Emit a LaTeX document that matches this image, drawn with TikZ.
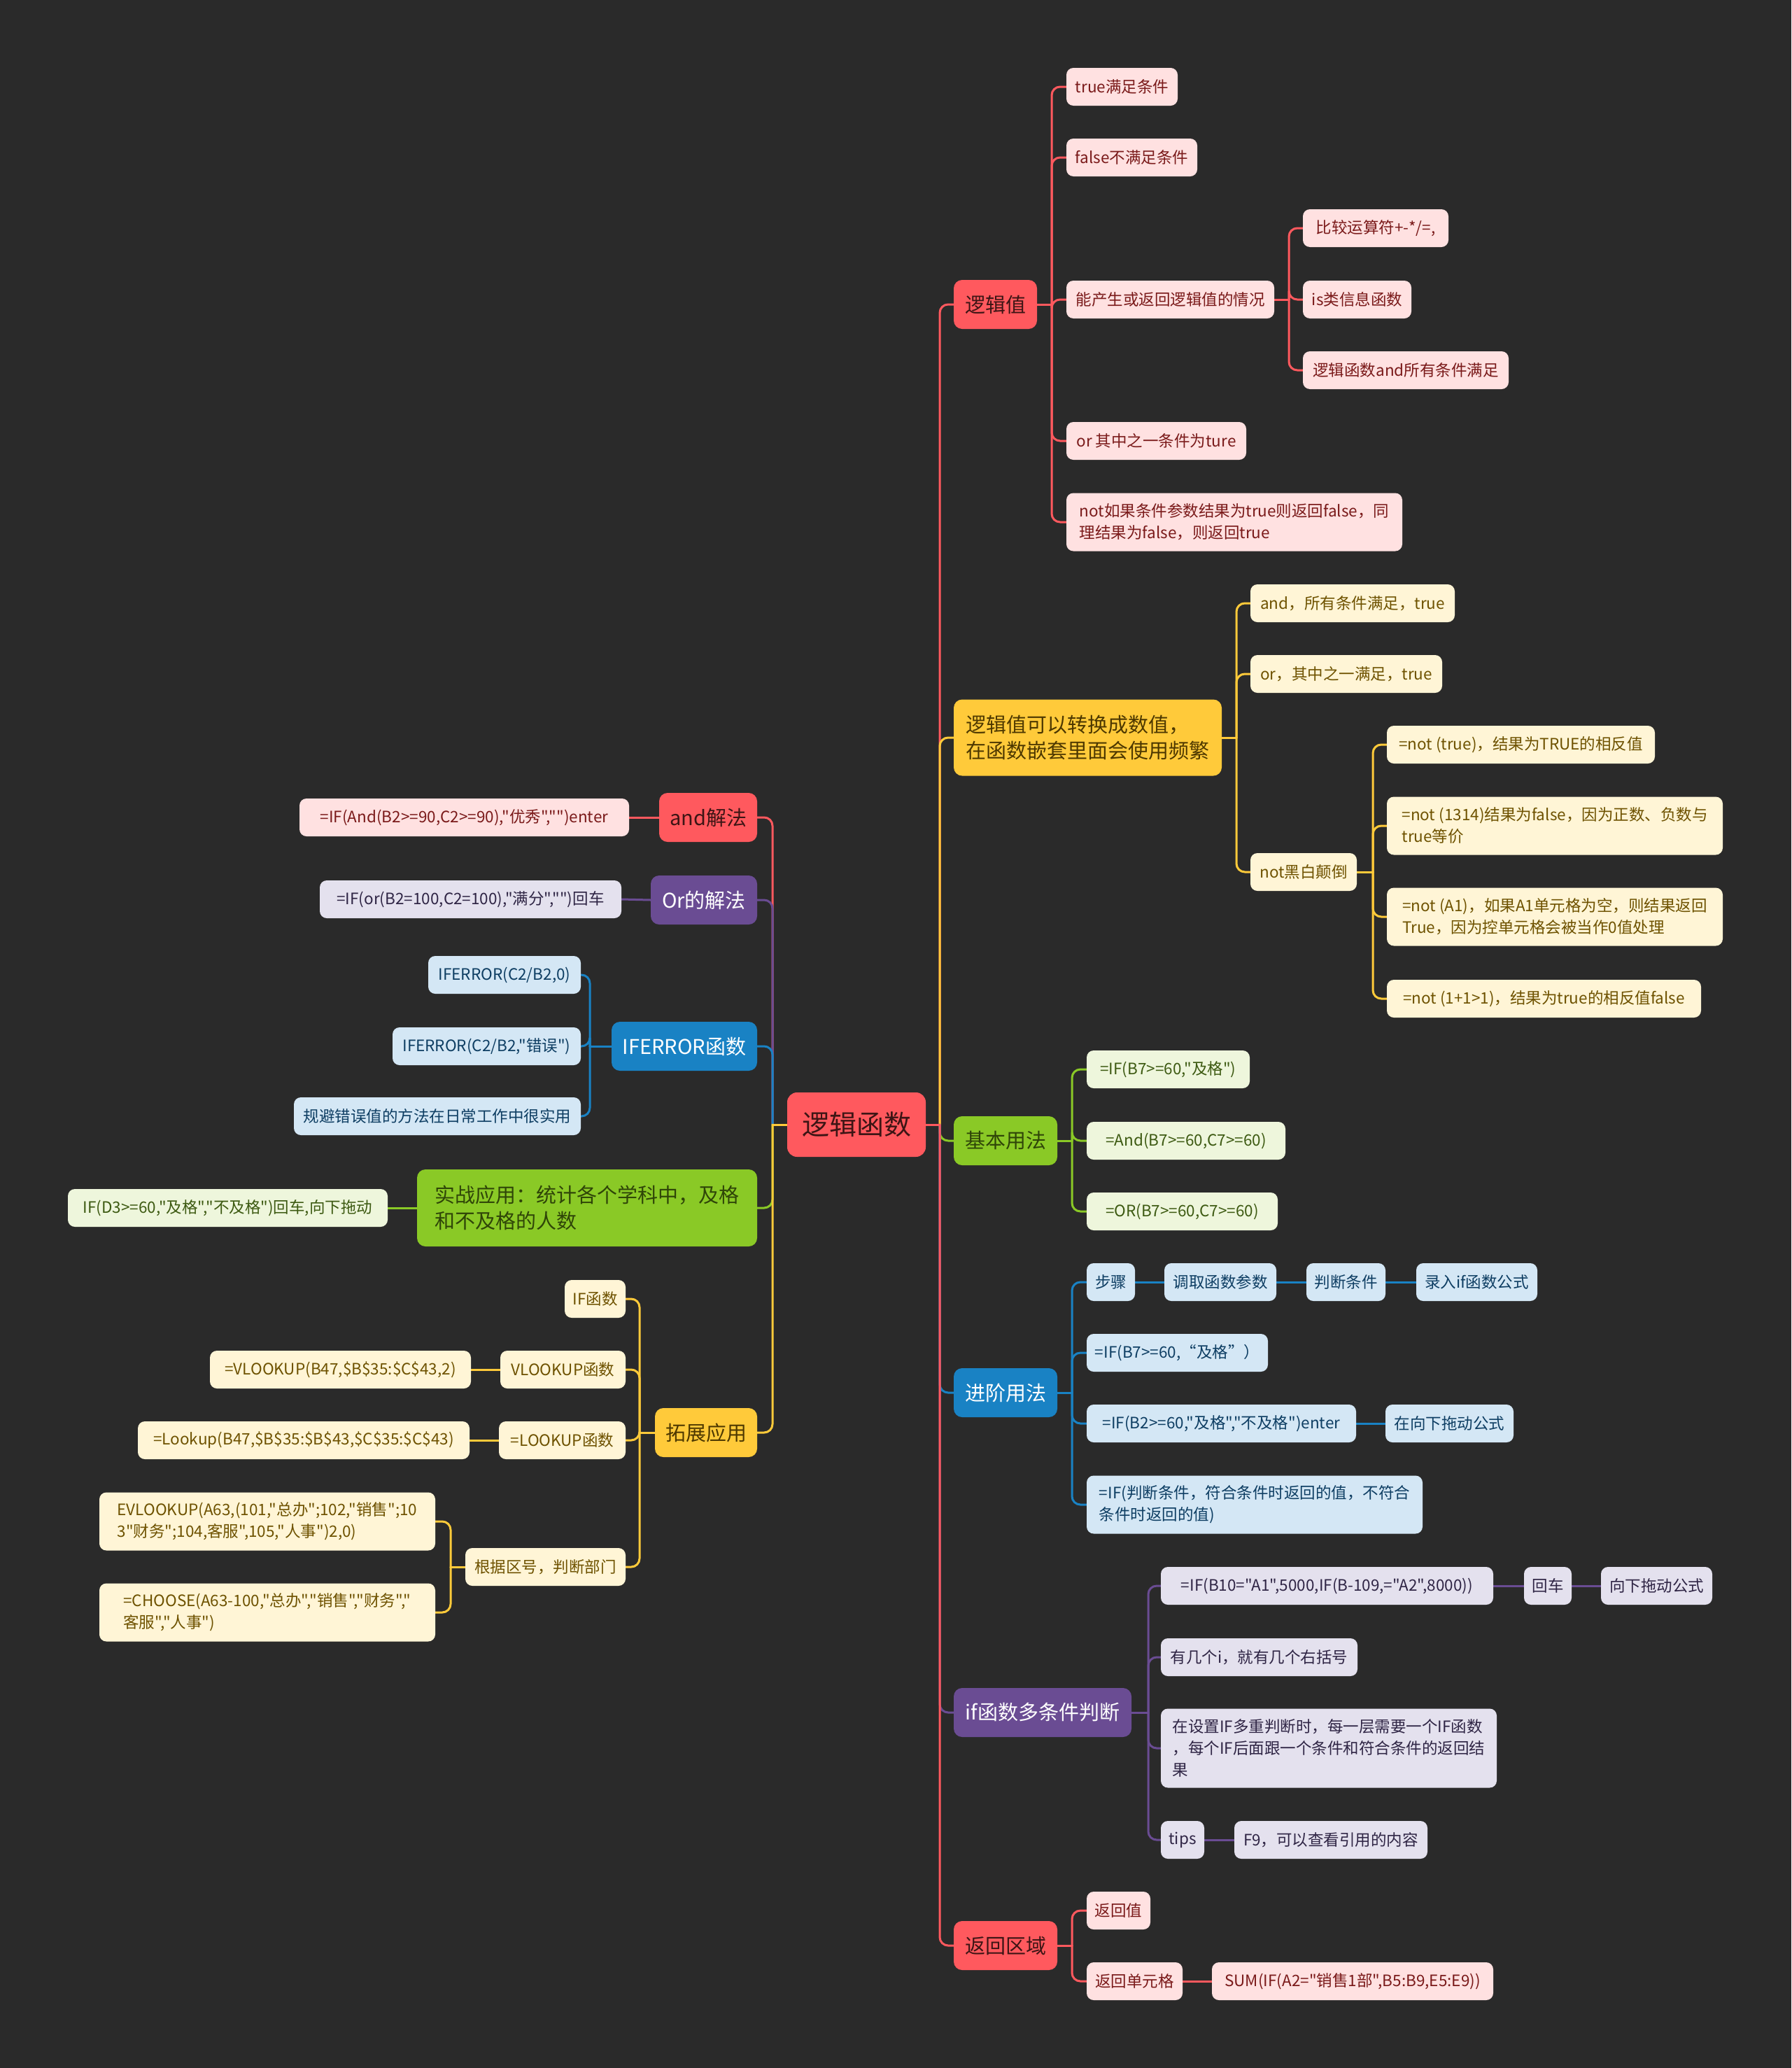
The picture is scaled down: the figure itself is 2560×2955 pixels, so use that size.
\documentclass[tikz,border=0pt]{standalone}
\usepackage{fontspec}
\setmainfont{Noto Sans CJK SC}[Ligatures=TeXOff]
\usetikzlibrary{backgrounds}
\definecolor{bg}{HTML}{2A2A2A}
\definecolor{redM}{HTML}{FF595E}
\definecolor{redT}{HTML}{3D1515}
\definecolor{pinkF}{HTML}{FFE1E1}
\definecolor{pinkT}{HTML}{7A1A1A}
\definecolor{yelM}{HTML}{FFCA3A}
\definecolor{yelT}{HTML}{4D3800}
\definecolor{creF}{HTML}{FFF5D6}
\definecolor{creT}{HTML}{6E5200}
\definecolor{grnM}{HTML}{8AC926}
\definecolor{grnT}{HTML}{2F4508}
\definecolor{lgF}{HTML}{EEF6DC}
\definecolor{lgT}{HTML}{3D5A12}
\definecolor{bluM}{HTML}{1982C4}
\definecolor{lbF}{HTML}{D4E7F5}
\definecolor{lbT}{HTML}{0E3E63}
\definecolor{purM}{HTML}{6A4C93}
\definecolor{lvF}{HTML}{E4E1EE}
\definecolor{lvT}{HTML}{2F2545}
\newcommand\fsA{\fontsize{22.5}{31}\selectfont}
\newcommand\fsB{\fontsize{29}{37}\selectfont}
\newcommand\fsC{\fontsize{39}{46}\selectfont}
\newcommand\mk[7]{\node[#1, minimum width={#4pt-#3pt}, minimum height={#6pt}] (#2) at ({(#3+#4)/2},#5) {#7};}
\newcommand\connR[4]{\draw[ln,#1] (#2.east) -- (#2.east -| #4); \draw[ln,#1,rounded corners=12pt] (#2.east -| #4) |- (#3.west);}
\newcommand\connL[4]{\draw[ln,#1] (#2.west) -- (#2.west -| #4); \draw[ln,#1,rounded corners=12pt] (#2.west -| #4) |- (#3.east);}
\tikzset{
  box/.style={rounded corners=10pt, inner sep=0pt, align=center},
  main/.style={box, rounded corners=12pt, font=\fsB},
  rt/.style={box, rounded corners=14pt, fill=redM, text=redT, font=\fsC},
  rd/.style={main, fill=redM, text=redT},
  yl/.style={main, fill=yelM, text=yelT},
  gn/.style={main, fill=grnM, text=grnT},
  bl/.style={main, fill=bluM, text=white},
  pu/.style={main, fill=purM, text=white},
  pk/.style={box, fill=pinkF, text=pinkT, font=\fsA},
  cr/.style={box, fill=creF, text=creT, font=\fsA},
  lg/.style={box, fill=lgF, text=lgT, font=\fsA},
  lb/.style={box, fill=lbF, text=lbT, font=\fsA},
  lv/.style={box, fill=lvF, text=lvT, font=\fsA},
  ln/.style={line width=3pt, line cap=round},
  cred/.style={draw=redM},
  cyel/.style={draw=yelM},
  cgrn/.style={draw=grnM},
  cblu/.style={draw=bluM},
  cpur/.style={draw=purM}
}
\begin{document}
\begin{tikzpicture}[x=1pt,y=-1pt]
\useasboundingbox (0,0) rectangle (2560,2955);
% root
\mk{rt}{root}{1125}{1323}{1607}{92}{逻辑函数}
% right level 1
\mk{rd}{L1}{1363}{1482}{435}{70}{逻辑值}
\mk{yl,align=left}{Y}{1363}{1746}{1054}{109}{逻辑值可以转换成数值，\\在函数嵌套里面会使用频繁}
\mk{gn}{G}{1363}{1511}{1630}{70}{基本用法}
\mk{bl}{B}{1363}{1511}{1990}{70}{进阶用法}
\mk{pu}{P}{1363}{1617}{2447}{70}{if函数多条件判断}
\mk{rd}{R}{1363}{1511}{2780}{70}{返回区域}
% 逻辑值
\mk{pk}{t1}{1524}{1683}{124}{54}{true满足条件}
\mk{pk}{t2}{1524}{1711}{225}{54}{false不满足条件}
\mk{pk}{t3}{1524}{1821}{428}{54}{能产生或返回逻辑值的情况}
\mk{pk}{t4}{1524}{1781}{630}{54}{or 其中之一条件为ture}
\mk{pk,align=left}{t5}{1524}{2004}{746}{83}{not如果条件参数结果为true则返回false，同\\理结果为false，则返回true}
\mk{pk}{c1}{1862}{2070}{326}{54}{比较运算符+-*/=,}
\mk{pk}{c2}{1862}{2017}{428}{54}{is类信息函数}
\mk{pk}{c3}{1862}{2156}{529}{54}{逻辑函数and所有条件满足}
% yellow
\mk{cr}{y1}{1787}{2079}{862}{54}{and，所有条件满足，true}
\mk{cr}{y2}{1787}{2061}{963}{54}{or，其中之一满足，true}
\mk{cr}{y3}{1787}{1939}{1246}{54}{not黑白颠倒}
\mk{cr}{n1}{1982}{2365}{1064}{54}{=not (true)，结果为TRUE的相反值}
\mk{cr,align=left}{n2}{1982}{2462}{1180}{83}{=not (1314)结果为false，因为正数、负数与\\true等价}
\mk{cr,align=left}{n3}{1982}{2462}{1310}{83}{=not (A1)，如果A1单元格为空，则结果返回\\True，因为控单元格会被当作0值处理}
\mk{cr}{n4}{1982}{2431}{1427}{54}{=not (1+1>1)，结果为true的相反值false}
% 基本用法
\mk{lg}{g1}{1553}{1786}{1528}{54}{=IF(B7>=60,"及格")}
\mk{lg}{g2}{1553}{1837}{1630}{54}{=And(B7>=60,C7>=60)}
\mk{lg}{g3}{1553}{1826}{1731}{54}{=OR(B7>=60,C7>=60)}
% 进阶用法
\mk{lb}{b1}{1553}{1622}{1832}{54}{步骤}
\mk{lb}{b1a}{1664}{1824}{1832}{54}{调取函数参数}
\mk{lb}{b1b}{1867}{1980}{1832}{54}{判断条件}
\mk{lb}{b1c}{2024}{2197}{1832}{54}{录入if函数公式}
\mk{lb}{b2}{1553}{1812}{1933}{54}{=IF(B7>=60,“及格”）}
\mk{lb}{b3}{1553}{1938}{2034}{54}{=IF(B2>=60,"及格","不及格")enter}
\mk{lb}{b3a}{1980}{2163}{2034}{54}{在向下拖动公式}
\mk{lb,align=left}{b4}{1553}{2033}{2150}{83}{=IF(判断条件，符合条件时返回的值，不符合\\条件时返回的值)}
% if函数多条件判断
\mk{lv}{p1}{1659}{2134}{2266}{54}{=IF(B10="A1",5000,IF(B-109,="A2",8000))}
\mk{lv}{p1a}{2178}{2246}{2266}{54}{回车}
\mk{lv}{p1b}{2288}{2447}{2266}{54}{向下拖动公式}
\mk{lv}{p2}{1659}{1940}{2368}{54}{有几个i，就有几个右括号}
\mk{lv,align=left}{p3}{1659}{2139}{2498}{113}{在设置IF多重判断时，每一层需要一个IF函数\\，每个IF后面跟一个条件和符合条件的返回结\\果}
\mk{lv}{p4}{1659}{1721}{2629}{54}{tips}
\mk{lv}{p4a}{1764}{2040}{2629}{54}{F9，可以查看引用的内容}
% 返回区域
\mk{pk}{r1}{1553}{1644}{2730}{54}{返回值}
\mk{pk}{r2}{1553}{1690}{2831}{54}{返回单元格}
\mk{pk}{r2a}{1732}{2134}{2831}{54}{SUM(IF(A2="销售1部",B5:B9,E5:E9))}
% left side
\mk{rd}{A}{942}{1082}{1168}{70}{and解法}
\mk{pk}{a1}{428}{899}{1168}{54}{=IF(And(B2>=90,C2>=90),"优秀","")enter}
\mk{pu}{O}{930}{1082}{1286}{70}{Or的解法}
\mk{lv}{o1}{457}{888}{1285}{54}{=IF(or(B2=100,C2=100),"满分","")回车}
\mk{bl}{E}{874}{1082}{1495}{70}{IFERROR函数}
\mk{lb}{e1}{612}{830}{1393}{54}{IFERROR(C2/B2,0)}
\mk{lb}{e2}{561}{830}{1495}{54}{IFERROR(C2/B2,"错误")}
\mk{lb}{e3}{420}{830}{1595}{54}{规避错误值的方法在日常工作中很实用}
\mk{gn,align=left}{S}{596}{1082}{1726}{110}{实战应用：统计各个学科中，及格\\和不及格的人数}
\mk{lg}{s1}{97}{554}{1726}{54}{IF(D3>=60,"及格","不及格")回车,向下拖动}
\mk{yl}{X}{936}{1082}{2047}{70}{拓展应用}
\mk{cr}{x1}{807}{894}{1856}{54}{IF函数}
\mk{cr}{x2}{715}{894}{1957}{54}{VLOOKUP函数}
\mk{cr}{x2a}{300}{673}{1957}{54}{=VLOOKUP(B47,\$B\$35:\$C\$43,2)}
\mk{cr}{x3}{713}{894}{2058}{54}{=LOOKUP函数}
\mk{cr}{x3a}{197}{671}{2058}{54}{=Lookup(B47,\$B\$35:\$B\$43,\$C\$35:\$C\$43)}
\mk{cr}{x4}{665}{894}{2239}{54}{根据区号，判断部门}
\mk{cr,align=left}{x4a}{142}{622}{2174}{83}{EVLOOKUP(A63,(101,"总办";102,"销售";10\\3"财务";104,客服",105,"人事")2,0)}
\mk{cr,align=left}{x4b}{142}{622}{2304}{83}{=CHOOSE(A63-100,"总办","销售","财务","\\客服","人事")}
% trunks
\coordinate (TR) at (1343,0);
\coordinate (TL) at (1104,0);
\coordinate (T1) at (1503,0);
\coordinate (T2) at (1842,0);
\coordinate (T3) at (1767,0);
\coordinate (T4) at (1962,0);
\coordinate (T5) at (1532,0);
\coordinate (T6) at (1641,0);
\coordinate (T7) at (843,0);
\coordinate (T8) at (914,0);
\coordinate (T9) at (644,0);
\begin{scope}[on background layer]
\fill[bg] (0,0) rectangle (2560,2955);
% root right
\connR{cred}{root}{L1}{TR}
\connR{cyel}{root}{Y}{TR}
\connR{cgrn}{root}{G}{TR}
\connR{cblu}{root}{B}{TR}
\connR{cpur}{root}{P}{TR}
\connR{cred}{root}{R}{TR}
% root left
\connL{cred}{root}{A}{TL}
\connL{cpur}{root}{O}{TL}
\connL{cblu}{root}{E}{TL}
\connL{cgrn}{root}{S}{TL}
\connL{cyel}{root}{X}{TL}
% 逻辑值
\connR{cred}{L1}{t1}{T1}
\connR{cred}{L1}{t2}{T1}
\connR{cred}{L1}{t3}{T1}
\connR{cred}{L1}{t4}{T1}
\connR{cred}{L1}{t5}{T1}
\connR{cred}{t3}{c1}{T2}
\connR{cred}{t3}{c2}{T2}
\connR{cred}{t3}{c3}{T2}
% yellow
\connR{cyel}{Y}{y1}{T3}
\connR{cyel}{Y}{y2}{T3}
\connR{cyel}{Y}{y3}{T3}
\connR{cyel}{y3}{n1}{T4}
\connR{cyel}{y3}{n2}{T4}
\connR{cyel}{y3}{n3}{T4}
\connR{cyel}{y3}{n4}{T4}
% green
\connR{cgrn}{G}{g1}{T5}
\connR{cgrn}{G}{g2}{T5}
\connR{cgrn}{G}{g3}{T5}
% blue
\connR{cblu}{B}{b1}{T5}
\connR{cblu}{B}{b2}{T5}
\connR{cblu}{B}{b3}{T5}
\connR{cblu}{B}{b4}{T5}
\draw[ln,cblu] (b1.east) -- (b1a.west);
\draw[ln,cblu] (b1a.east) -- (b1b.west);
\draw[ln,cblu] (b1b.east) -- (b1c.west);
\draw[ln,cblu] (b3.east) -- (b3a.west);
% purple
\connR{cpur}{P}{p1}{T6}
\connR{cpur}{P}{p2}{T6}
\connR{cpur}{P}{p3}{T6}
\connR{cpur}{P}{p4}{T6}
\draw[ln,cpur] (p1.east) -- (p1a.west);
\draw[ln,cpur] (p1a.east) -- (p1b.west);
\draw[ln,cpur] (p4.east) -- (p4a.west);
% 返回区域
\connR{cred}{R}{r1}{T5}
\connR{cred}{R}{r2}{T5}
\draw[ln,cred] (r2.east) -- (r2a.west);
% left children
\draw[ln,cred] (A.west) -- (a1.east);
\draw[ln,cpur] (O.west) -- (o1.east);
\connL{cblu}{E}{e1}{T7}
\connL{cblu}{E}{e2}{T7}
\connL{cblu}{E}{e3}{T7}
\draw[ln,cgrn] (S.west) -- (s1.east);
\connL{cyel}{X}{x1}{T8}
\connL{cyel}{X}{x2}{T8}
\connL{cyel}{X}{x3}{T8}
\connL{cyel}{X}{x4}{T8}
\draw[ln,cyel] (x2.west) -- (x2a.east);
\draw[ln,cyel] (x3.west) -- (x3a.east);
\connL{cyel}{x4}{x4a}{T9}
\connL{cyel}{x4}{x4b}{T9}
\end{scope}
\end{tikzpicture}
\end{document}
